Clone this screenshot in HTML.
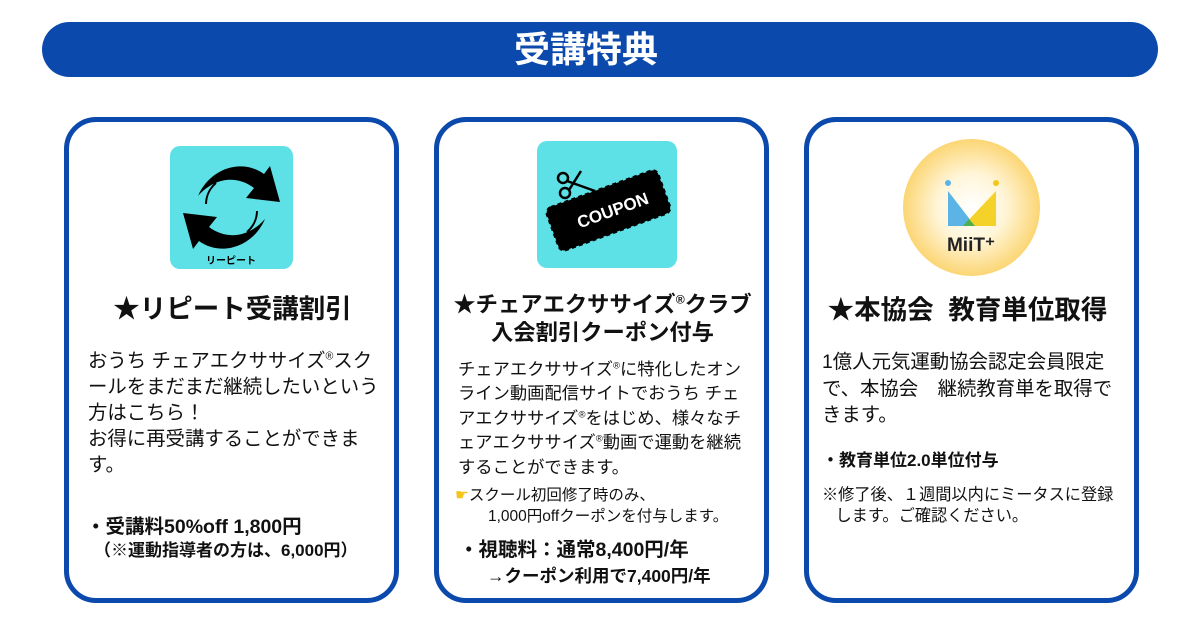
<!DOCTYPE html>
<html><head><meta charset="utf-8"><style>
*{margin:0;padding:0;box-sizing:border-box}
body{width:1200px;height:629px;background:#fff;position:relative;overflow:hidden;font-family:"Liberation Sans","Noto Sans CJK JP",sans-serif;color:#111}
.bar{position:absolute;left:42px;top:22px;width:1116px;height:55px;background:#0b4aac;border-radius:28px;color:#fff;font-weight:bold;font-size:36px;text-align:center;line-height:55px;padding-right:28px}
.card{position:absolute;top:117px;width:335px;height:486px;border:5px solid #0b4aac;border-radius:32px;background:#fff}
.t{position:absolute;white-space:nowrap}
.b{font-weight:bold}
sup{font-size:0.55em;vertical-align:0.7em;line-height:0}
</style></head><body>
<div class="bar">受講特典</div>

<div class="card" style="left:64px"></div>
<div class="card" style="left:434px"></div>
<div class="card" style="left:804px"></div>

<!-- icon 1 -->
<div style="position:absolute;left:170px;top:146px;width:123px;height:123px;background:#5ee1e6;border-radius:10px"></div>
<svg style="position:absolute;left:170px;top:146px" width="123" height="123" viewBox="0 0 123 123">
<path d="M28 50 C40 22 72 12 94 28 L100 20 L110 56 L76 52 L84 42 C68 30 46 30 28 50Z" fill="#000"/>
<path d="M95 73 C83 101 51 111 29 95 L23 103 L13 67 L47 71 L39 81 C55 93 77 93 95 73Z" fill="#000"/>
<path d="M46 37 A28 28 0 0 0 36 58" stroke="#000" stroke-width="2" fill="none"/>
<path d="M77 86 A28 28 0 0 0 87 65" stroke="#000" stroke-width="2" fill="none"/>
<text x="61" y="118" font-size="10" font-weight="bold" text-anchor="middle" font-family="Noto Sans CJK JP,sans-serif">リーピート</text>
</svg>

<!-- icon 2 -->
<div style="position:absolute;left:537px;top:141px;width:140px;height:127px;background:#5ee1e6;border-radius:10px"></div>
<svg style="position:absolute;left:537px;top:141px" width="140" height="127" viewBox="0 0 140 127">
<g transform="rotate(-20 70 68)">
<rect x="14" y="48" width="114" height="44" rx="6" fill="#000" stroke="#000" stroke-width="2" stroke-dasharray="4 3" transform="translate(-3 -3) scale(1.04)"/>
<rect x="17" y="51" width="108" height="38" rx="5" fill="#000"/>
<text x="75" y="77" fill="#fff" font-size="17" font-weight="bold" text-anchor="middle" font-family="Liberation Sans,sans-serif">COUPON</text>
</g>
<circle cx="26" cy="37" r="5" fill="none" stroke="#000" stroke-width="2.5"/>
<circle cx="28" cy="52" r="5" fill="none" stroke="#000" stroke-width="2.5"/>
<path d="M30 40 L58 50 M32 49 L44 30" stroke="#000" stroke-width="2.5"/>
</svg>

<!-- icon 3 -->
<div style="position:absolute;left:903px;top:139px;width:137px;height:137px;border-radius:50%;background:radial-gradient(circle,#fff 0%,#fff5d8 35%,#fbd268 75%,#f5b532 100%)"></div>
<svg style="position:absolute;left:903px;top:139px" width="137" height="137" viewBox="0 0 137 137">
<circle cx="45" cy="44" r="3" fill="#5bb3e6"/>
<circle cx="93" cy="44" r="3" fill="#f5c518"/>
<path d="M45 52 L45 87 L72 87Z" fill="#5bb3e6"/>
<path d="M93 52 L93 87 L60 87Z" fill="#f5d22a"/>
<path d="M60 87 L72 87 L66 80Z" fill="#4caf50"/>
<text x="68" y="112" font-size="19" font-weight="bold" text-anchor="middle" fill="#222" font-family="Liberation Sans,sans-serif">MiiT⁺</text>
</svg>

<!-- card 1 text -->
<div class="t b" style="left:60px;width:345px;text-align:center;top:293px;font-size:26.5px;line-height:32px">★リピート受講割引</div>
<div class="t" style="left:88px;top:348px;font-size:19.4px;line-height:26px">おうち チェアエクササイズ<sup>®</sup>スク<br>ールをまだまだ継続したいという<br>方はこちら！<br>お得に再受講することができま<br>す。</div>
<div class="t b" style="left:86px;top:514px;font-size:19.5px;line-height:26px">・受講料50%off 1,800円</div>
<div class="t b" style="left:94px;top:540px;font-size:17px;line-height:22px">（※運動指導者の方は、6,000円）</div>

<!-- card 2 text -->
<div class="t b" style="left:430px;width:345px;text-align:center;top:291px;font-size:22.3px;line-height:28px">★チェアエクササイズ<sup>®</sup>クラブ<br>入会割引クーポン付与</div>
<div class="t" style="left:458px;top:357px;font-size:17.3px;line-height:24.4px">チェアエクササイズ<sup>®</sup>に特化したオン<br>ライン動画配信サイトでおうち チェ<br>アエクササイズ<sup>®</sup>をはじめ、様々なチ<br>ェアエクササイズ<sup>®</sup>動画で運動を継続<br>することができます。</div>
<div class="t" style="left:455px;top:485px;font-size:15.5px;line-height:21px"><span style="color:#f5c518">☛</span>スクール初回修了時のみ、<br><span style="padding-left:33px">1,000円offクーポンを付与します。</span></div>
<div class="t b" style="left:459px;top:537px;font-size:19.5px;line-height:26px">・視聴料：通常8,400円/年</div>
<div class="t b" style="left:487px;top:564px;font-size:17.5px;line-height:24px">→クーポン利用で7,400円/年</div>

<!-- card 3 text -->
<div class="t b" style="left:800px;width:335px;text-align:center;top:294px;font-size:26.5px;line-height:32px">★本協会&nbsp;&nbsp;教育単位取得</div>
<div class="t" style="left:822px;top:349px;font-size:19.4px;line-height:26.5px">1億人元気運動協会認定会員限定<br>で、本協会　継続教育単を取得で<br>きます。</div>
<div class="t b" style="left:822px;top:450px;font-size:17px;line-height:22px">・教育単位2.0単位付与</div>
<div class="t" style="left:822px;top:485px;font-size:16.2px;line-height:21px">※修了後、１週間以内にミータスに登録<br>&nbsp;&nbsp;&nbsp;します。ご確認ください。</div>
</body></html>
